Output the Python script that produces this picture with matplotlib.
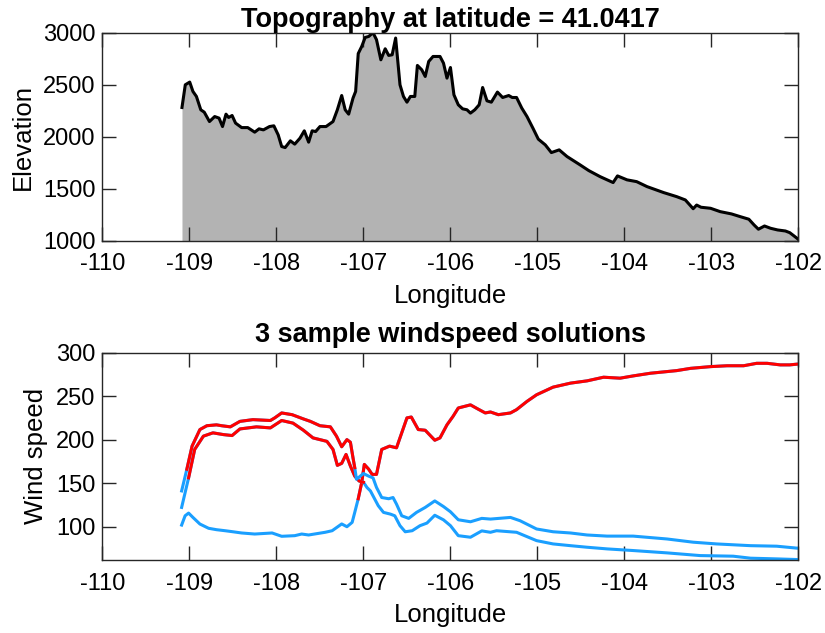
import matplotlib
matplotlib.use("Agg")
import matplotlib.pyplot as plt
import numpy as np

plt.rcParams['font.family'] = ['Liberation Sans', 'DejaVu Sans']
plt.rcParams['axes.unicode_minus'] = False

# topography along the latitude line
topo_lon = [-109.086, -109.048, -108.997, -108.96, -108.92, -108.87, -108.83, -108.77, -108.71, -108.66,
            -108.62, -108.58, -108.55, -108.51, -108.47, -108.40, -108.33, -108.25, -108.20, -108.15,
            -108.08, -108.03, -107.98, -107.94, -107.90, -107.84, -107.79, -107.73, -107.68, -107.63,
            -107.59, -107.55, -107.50, -107.43, -107.35, -107.30, -107.25, -107.21, -107.17, -107.12,
            -107.09, -107.06, -107.02, -106.98, -106.94, -106.89, -106.85, -106.80, -106.75, -106.71,
            -106.67, -106.63, -106.58, -106.54, -106.50, -106.46, -106.41, -106.38, -106.33, -106.29,
            -106.25, -106.20, -106.12, -106.08, -106.04, -106.00, -105.96, -105.91, -105.86, -105.81,
            -105.77, -105.72, -105.67, -105.63, -105.58, -105.53, -105.46, -105.40, -105.33, -105.29,
            -105.24, -105.18, -105.12, -105.05, -104.99, -104.91, -104.84, -104.75, -104.66, -104.51,
            -104.41, -104.28, -104.13, -104.08, -103.97, -103.86, -103.74, -103.55, -103.40, -103.30,
            -103.21, -103.17, -103.12, -103.01, -102.90, -102.77, -102.67, -102.57, -102.51, -102.46,
            -102.39, -102.32, -102.24, -102.15, -102.10, -102.05, -102.00]
topo_elev = [2282, 2500, 2526, 2436, 2388, 2260, 2237, 2147, 2195, 2180,
             2099, 2218, 2186, 2205, 2132, 2089, 2089, 2045, 2077, 2067,
             2099, 2106, 2019, 1907, 1897, 1962, 1930, 1987, 2058, 1949,
             2058, 2051, 2099, 2099, 2147, 2260, 2397, 2260, 2218, 2372,
             2436, 2800, 2868, 2955, 2964, 3000, 2933, 2740, 2846, 2782,
             2788, 2949, 2500, 2388, 2333, 2388, 2388, 2686, 2644, 2580,
             2724, 2772, 2772, 2708, 2564, 2666, 2404, 2308, 2269, 2260,
             2228, 2260, 2308, 2474, 2346, 2333, 2430, 2378, 2397, 2378,
             2378, 2276, 2195, 2080, 1978, 1923, 1849, 1875, 1811, 1731,
             1676, 1618, 1561, 1625, 1587, 1570, 1522, 1465, 1426, 1394,
             1310, 1345, 1324, 1314, 1282, 1260, 1234, 1209, 1154, 1113,
             1144, 1122, 1106, 1096, 1080, 1048, 1015]

# solution 1: low start, high end
s1_lon = [-109.09, -109.05, -109.01, -108.96, -108.88, -108.78, -108.69, -108.59, -108.50, -108.40,
          -108.25, -108.05, -107.94, -107.79, -107.71, -107.63, -107.44, -107.36, -107.25, -107.19,
          -107.13, -107.10, -107.06, -107.02, -106.99, -106.94, -106.90, -106.85, -106.79, -106.70,
          -106.62, -106.50, -106.45, -106.37, -106.29, -106.18, -106.12, -106.04, -105.97, -105.91,
          -105.77, -105.68, -105.60, -105.54, -105.45, -105.31, -105.24, -105.12, -105.01, -104.82,
          -104.62, -104.43, -104.24, -104.05, -103.90, -103.70, -103.40, -103.24, -103.01, -102.82,
          -102.63, -102.48, -102.36, -102.21, -102.10, -102.00]
s1_speed = [101.7, 112.4, 115.5, 110.5, 102.9, 98, 96.4, 95.2, 94, 92.6,
            91.4, 92.6, 88.8, 89.5, 91.4, 90.3, 93.4, 95.2, 103, 99.8,
            104.8, 116.3, 132, 150.6, 171.5, 166, 160, 160, 188.7, 192.5,
            190.6, 225, 226, 211.6, 210.8, 199.3, 202, 217, 226.8, 236.4,
            240, 235, 230.7, 231.8, 228.7, 230.7, 234.5, 244, 251.6, 260.4,
            265, 267.6, 271.8, 270.7, 273.3, 276.4, 279.4, 282, 284, 285,
            285, 287.8, 287.8, 286, 286, 287]

# solution 2: lower plateau, lowest tail
s2_lon = [-109.09, -109.01, -108.94, -108.84, -108.73, -108.61, -108.51, -108.42, -108.23, -108.07,
          -107.94, -107.81, -107.69, -107.58, -107.42, -107.35, -107.30, -107.25, -107.20, -107.15,
          -107.10, -107.05, -107.00, -106.96, -106.92, -106.83, -106.77, -106.69, -106.64, -106.58,
          -106.52, -106.44, -106.35, -106.27, -106.18, -106.08, -106.00, -105.91, -105.77, -105.64,
          -105.54, -105.47, -105.24, -105.01, -104.82, -104.62, -104.43, -104.20, -103.90, -103.51,
          -103.13, -102.75, -102.55, -102.25, -102.00]
s2_speed = [122, 156, 188.7, 204, 207.8, 205.8, 204.7, 212.3, 214.7, 213.5,
            222, 219, 210.8, 202, 198, 188.7, 170.4, 172.7, 183, 169.6,
            158, 152.4, 151, 145, 141, 124, 116.3, 114.3, 112.4, 101,
            94, 95.2, 101, 104, 113, 107.7, 101, 89.5, 87.7, 95,
            93.4, 95.2, 93.4, 83.8, 80, 78, 76.2, 74.3, 72.4, 69.7,
            66.6, 65.9, 63.6, 62.8, 62]

# solution 3: upper plateau, upper tail
s3_lon = [-109.09, -109.03, -108.97, -108.88, -108.80, -108.69, -108.63, -108.53, -108.42, -108.27,
          -108.07, -108.02, -107.94, -107.82, -107.69, -107.61, -107.50, -107.38, -107.31, -107.25,
          -107.19, -107.15, -107.12, -107.10, -107.08, -107.00, -106.94, -106.89, -106.85, -106.79,
          -106.71, -106.66, -106.62, -106.56, -106.48, -106.39, -106.29, -106.18, -106.08, -106.00,
          -105.91, -105.77, -105.64, -105.54, -105.31, -105.20, -105.01, -104.82, -104.62, -104.43,
          -104.20, -103.90, -103.51, -103.21, -102.94, -102.55, -102.25, -102.00]
s3_speed = [141, 166, 192.5, 211.6, 216, 217, 216, 214.7, 221, 223,
            222, 225, 230.7, 228.7, 223.8, 221, 216, 214.7, 204, 191.8,
            200, 197, 179, 167.7, 154.4, 161, 158, 156, 145, 133.4,
            132, 133.4, 125.8, 112.4, 109.4, 116.3, 122, 129.5, 123, 117,
            107.8, 105.5, 109.4, 108.6, 110.5, 106.7, 97.2, 94, 92.6, 90.3,
            89, 89, 85.7, 82, 80, 78, 77.4, 75]

# longitude span where each solution is drawn red
red_span = [(-107.06, -102.0), (-109.01, -107.0), (-109.03, -107.10)]

axis_col = '#262626'
fig = plt.figure(figsize=(8.25, 6.33), dpi=100)

ax1 = fig.add_axes([0.1242, 0.6193, 0.8436, 0.329])
ax1.fill_between(topo_lon, topo_elev, 1000, color='#b3b3b3', lw=0)
ax1.plot(topo_lon, topo_elev, color='k', lw=2.2)
ax1.set_xlim(-110, -102)
ax1.set_ylim(1000, 3000)
ax1.set_xticks(range(-110, -101))
ax1.set_yticks([1000, 1500, 2000, 2500, 3000])
ax1.set_xlabel('Longitude', fontsize=18.5, labelpad=6)
ax1.set_ylabel('Elevation', fontsize=18.5, labelpad=6)
ax1.set_title('Topography at latitude = 41.0417', fontsize=19.5, fontweight='bold', pad=4)

ax2 = fig.add_axes([0.1242, 0.1153, 0.8436, 0.3275])
for lon, sp, (a, b) in zip([s1_lon, s2_lon, s3_lon], [s1_speed, s2_speed, s3_speed], red_span):
    lon = np.array(lon)
    sp = np.array(sp)
    ax2.plot(lon, sp, color='#1a9fff', lw=2.2)
    m = (lon >= a - 1e-9) & (lon <= b + 1e-9)
    ax2.plot(lon[m], sp[m], color='#ff0000', lw=2.2)
ax2.set_xlim(-110, -102)
ax2.set_ylim(61.5, 300)
ax2.set_xticks(range(-110, -101))
ax2.set_yticks([100, 150, 200, 250, 300])
ax2.set_xlabel('Longitude', fontsize=18.5, labelpad=6)
ax2.set_ylabel('Wind speed', fontsize=18.5, labelpad=6)
ax2.set_title('3 sample windspeed solutions', fontsize=19.5, fontweight='bold', pad=8)

for ax in (ax1, ax2):
    ax.tick_params(direction='in', length=10, width=1, top=True, right=True,
                   labelsize=17, colors=axis_col, labelcolor='k', pad=5)
    ax.tick_params(axis='x', pad=9)
    for s in ax.spines.values():
        s.set_color(axis_col)
        s.set_linewidth(1)

fig.savefig('out.png', dpi=100)
